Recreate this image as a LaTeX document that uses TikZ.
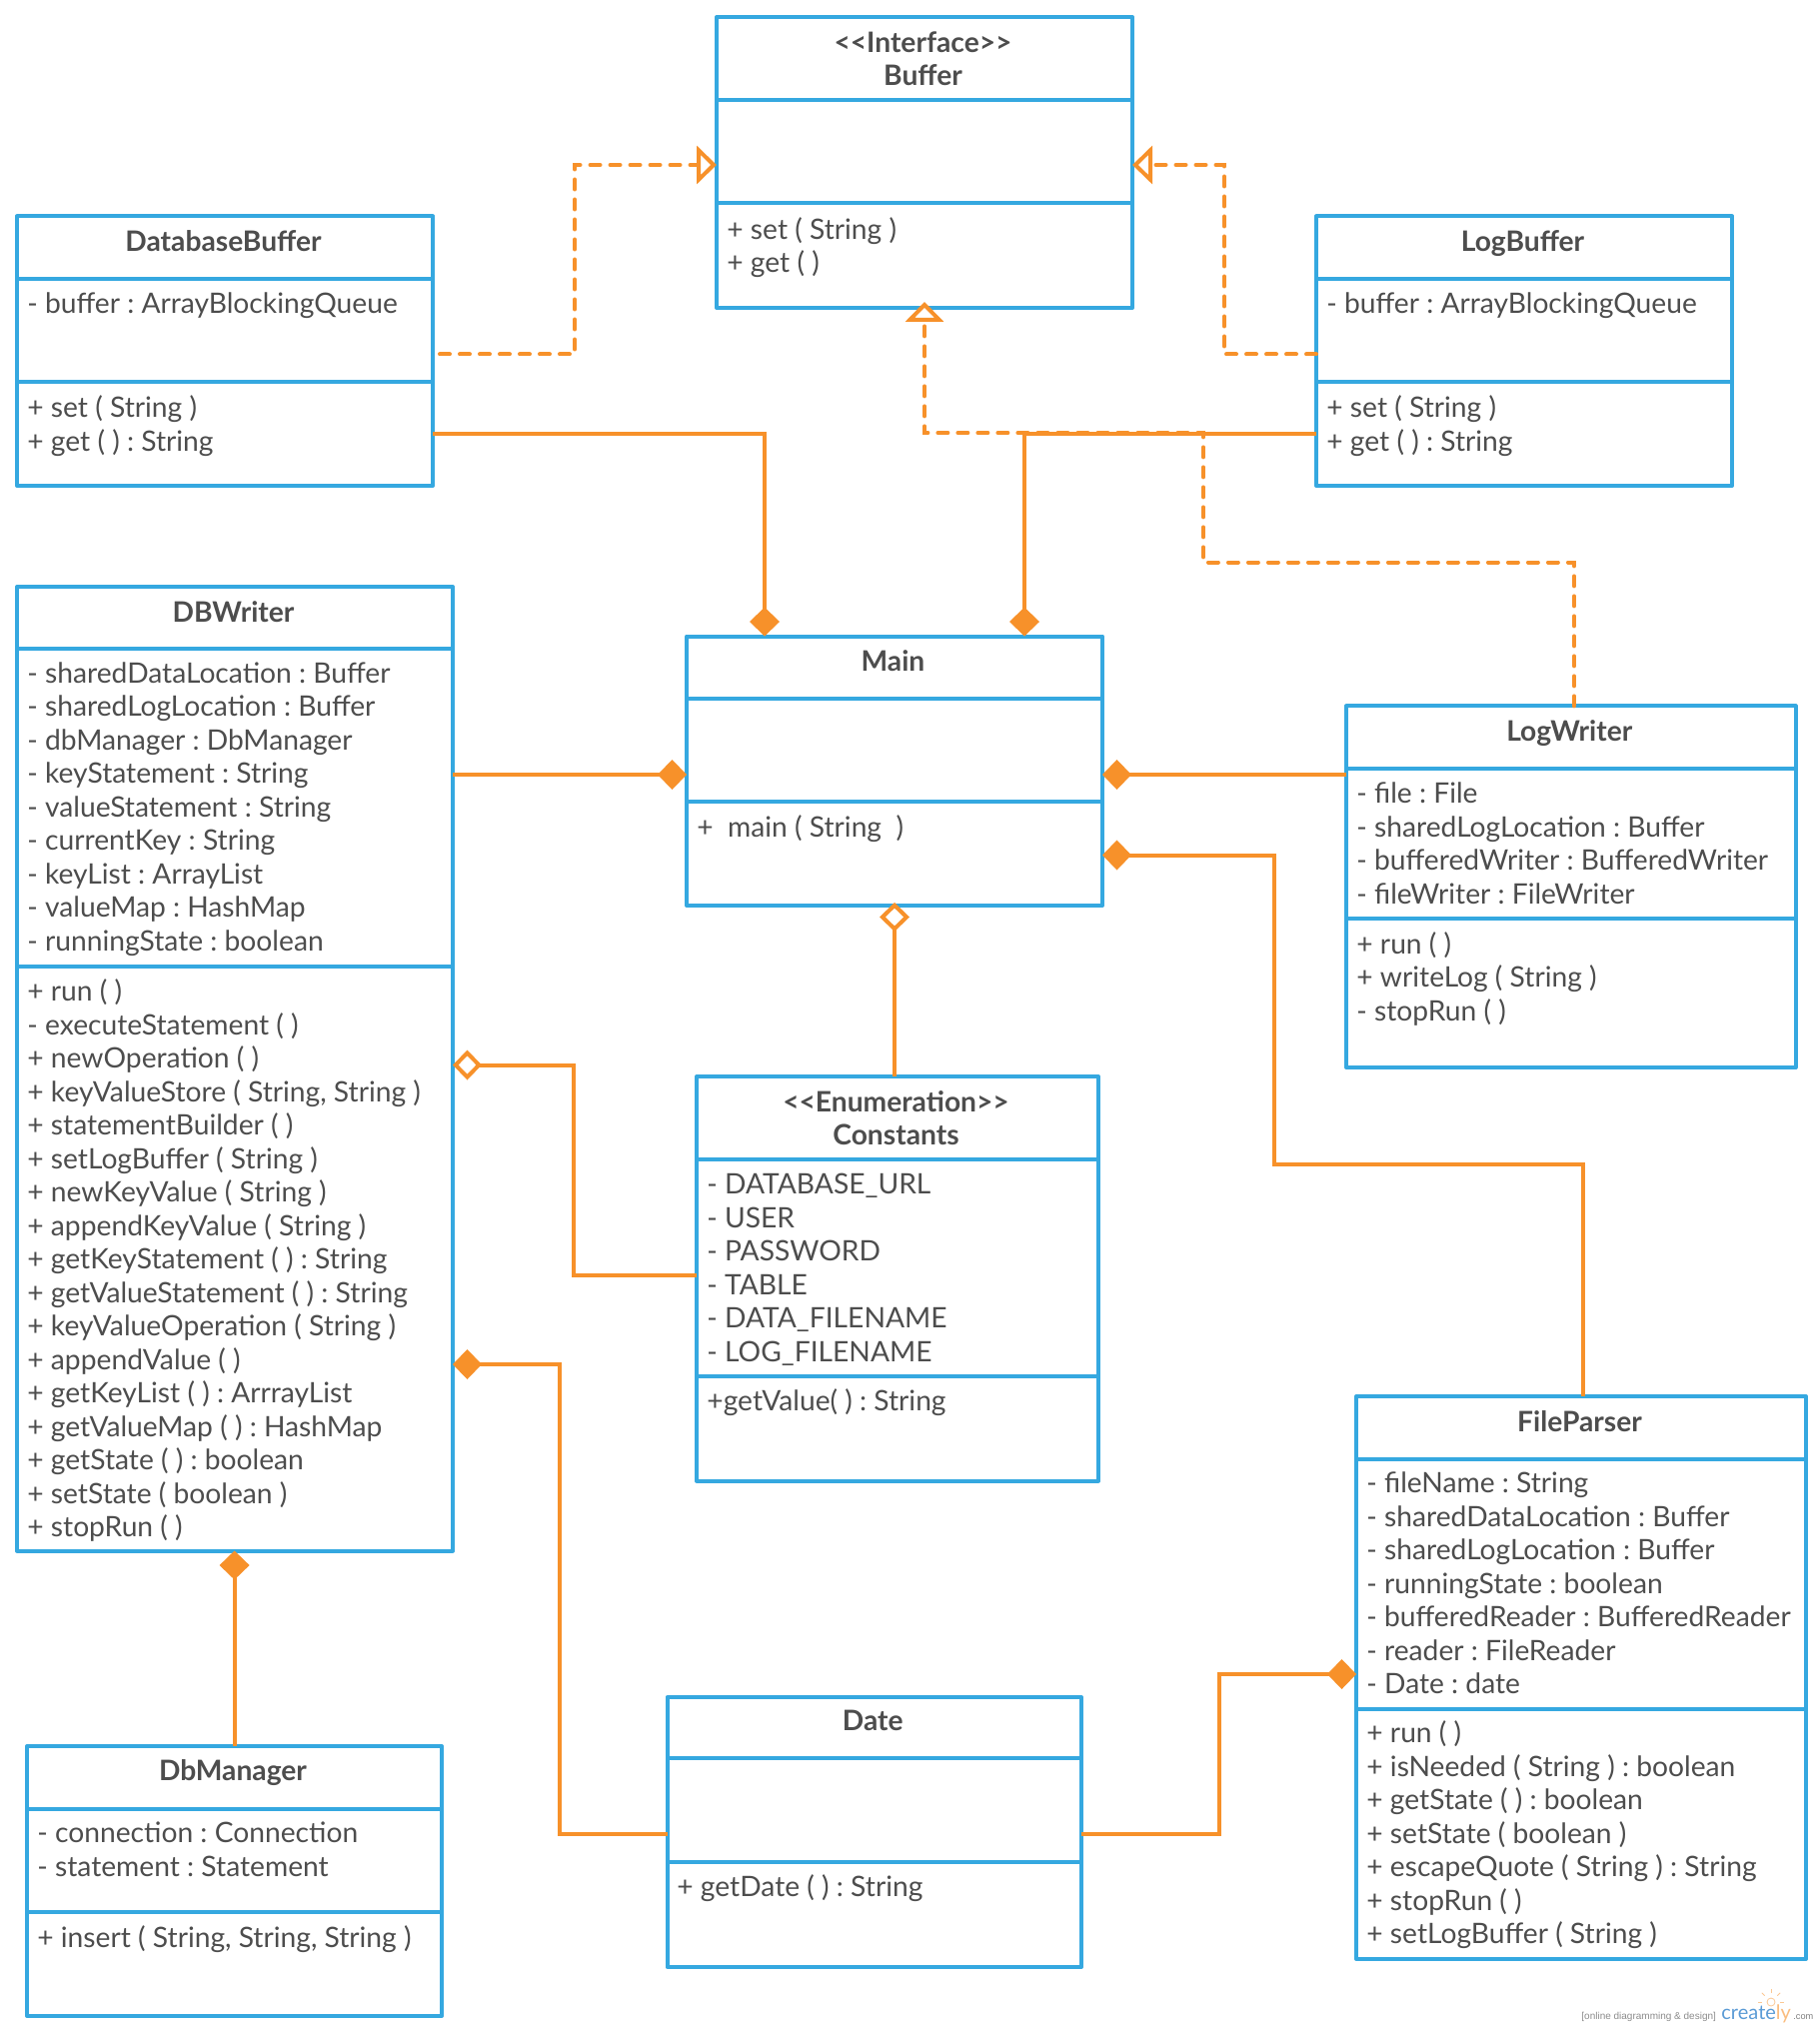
\documentclass[tikz,border=0pt]{standalone}
\usepackage{fontspec}
\setmainfont{Lato}
\newfontfamily\logofont{Liberation Sans}
\usetikzlibrary{arrows.meta,fit}
\definecolor{umlblue}{HTML}{35A8E0}
\definecolor{umlorange}{HTML}{F7912A}
\definecolor{umltext}{HTML}{4D4D4D}
\tikzset{x=0.5pt, y=-0.5pt,
  classbox/.style={draw=umlblue, line width=2pt, line join=round, inner sep=0pt, outer sep=0pt},
  classline/.style={draw=umlblue, line width=2pt},
  classtitle/.style={anchor=north, align=center, inner sep=0pt, text=umltext, xshift=-0.75pt, yshift=-0.75pt,
    font=\fontsize{14.1}{16.75}\selectfont\bfseries, execute at begin node=\strut},
  classtext/.style={anchor=north west, align=left, inner sep=0pt, text=umltext, xshift=-0.5pt, yshift=-1.5pt,
    font=\fontsize{14.1}{16.75}\selectfont, execute at begin node=\strut},
  composition/.style={draw=umlorange, line width=2pt, -{Diamond[length=14.5pt,width=15pt,line width=0pt]}},
  aggregation/.style={draw=umlorange, line width=2pt, -{Diamond[open,fill=white,length=14.5pt,width=15pt]}},
  realization/.style={draw=umlorange, line width=2pt, line cap=round, dash pattern=on 5pt off 5pt,
    -{Triangle[open,fill=white,length=10pt,width=19pt]}}
}

\begin{document}
\frenchspacing
\begin{tikzpicture}
  \useasboundingbox (0,0) rectangle (1820,2032);

  % Buffer
  \node[classbox, fit={(717,17) (1133,308)}] (buffer) {};
  \draw[classline] (buffer.west |- 0,100) -- (buffer.east |- 0,100);
  \draw[classline] (buffer.west |- 0,203.5) -- (buffer.east |- 0,203.5);
  \node[classtitle, yshift=-1.25pt] (buffertitle) at (buffer.north |- 0,27) {{<}{<}Interface{>}{>}\\Buffer};
  \node[classtext] (bufferops) at (728,214) {+ set ( String )\\+ get ( )};

  % DatabaseBuffer
  \node[classbox, fit={(17,216.5) (433,486)}] (dbbuffer) {};
  \draw[classline] (dbbuffer.west |- 0,279) -- (dbbuffer.east |- 0,279);
  \draw[classline] (dbbuffer.west |- 0,382.4) -- (dbbuffer.east |- 0,382.4);
  \node[classtitle] (dbbuffertitle) at (dbbuffer.north |- 0,226.5) {DatabaseBuffer};
  \node[classtext] (dbbufferattrs) at (28,287) {- buffer : ArrayBlockingQueue};
  \node[classtext] (dbbufferops) at (28,392.4) {+ set ( String )\\+ get ( ) : String};

  % LogBuffer
  \node[classbox, fit={(1317,216.5) (1733,486)}] (logbuffer) {};
  \draw[classline] (logbuffer.west |- 0,279) -- (logbuffer.east |- 0,279);
  \draw[classline] (logbuffer.west |- 0,382.4) -- (logbuffer.east |- 0,382.4);
  \node[classtitle] (logbuffertitle) at (logbuffer.north |- 0,226.5) {LogBuffer};
  \node[classtext] (logbufferattrs) at (1328,287) {- buffer : ArrayBlockingQueue};
  \node[classtext] (logbufferops) at (1328,392.4) {+ set ( String )\\+ get ( ) : String};

  % DBWriter
  \node[classbox, fit={(17,587) (453,1551.5)}] (dbwriter) {};
  \draw[classline] (dbwriter.west |- 0,649) -- (dbwriter.east |- 0,649);
  \draw[classline] (dbwriter.west |- 0,966.5) -- (dbwriter.east |- 0,966.5);
  \node[classtitle] (dbwritertitle) at (dbwriter.north |- 0,597) {DBWriter};
  \node[classtext] (dbwriterattrs) at (28,659) {- sharedDataLocation : Buffer\\- sharedLogLocation : Buffer\\
    - dbManager : DbManager\\- keyStatement : String\\- valueStatement : String\\- currentKey : String\\
    - keyList : ArrayList\\- valueMap : HashMap\\- runningState : boolean};
  \node[classtext] (dbwriterops) at (28,976.5) {+ run ( )\\- executeStatement ( )\\+ newOperation ( )\\
    + keyValueStore ( String, String )\\+ statementBuilder ( )\\+ setLogBuffer ( String )\\
    + newKeyValue ( String )\\+ appendKeyValue ( String )\\+ getKeyStatement ( ) : String\\
    + getValueStatement ( ) : String\\+ keyValueOperation ( String )\\+ appendValue ( )\\
    + getKeyList ( ) : ArrrayList\\+ getValueMap ( ) : HashMap\\+ getState ( ) : boolean\\
    + setState ( boolean )\\+ stopRun ( )};

  % Main
  \node[classbox, fit={(687,636.5) (1103,906)}] (main) {};
  \draw[classline] (main.west |- 0,698.7) -- (main.east |- 0,698.7);
  \draw[classline] (main.west |- 0,802) -- (main.east |- 0,802);
  \node[classtitle] (maintitle) at (main.north |- 0,646.5) {Main};
  \node[classtext] (mainops) at (698,810.5) {+\ \ main ( String\ \ )};

  % LogWriter
  \node[classbox, fit={(1347,706.4) (1796.5,1068)}] (logwriter) {};
  \draw[classline] (logwriter.west |- 0,768.6) -- (logwriter.east |- 0,768.6);
  \draw[classline] (logwriter.west |- 0,919) -- (logwriter.east |- 0,919);
  \node[classtitle] (logwritertitle) at (logwriter.north |- 0,716.4) {LogWriter};
  \node[classtext] (logwriterattrs) at (1358,779.6) {- file : File\\- sharedLogLocation : Buffer\\
    - bufferedWriter : BufferedWriter\\- fileWriter : FileWriter};
  \node[classtext] (logwriterops) at (1358,929) {+ run ( )\\+ writeLog ( String )\\- stopRun ( )};

  % Constants
  \node[classbox, fit={(697,1077) (1099,1481.6)}] (constants) {};
  \draw[classline] (constants.west |- 0,1160) -- (constants.east |- 0,1160);
  \draw[classline] (constants.west |- 0,1376.6) -- (constants.east |- 0,1376.6);
  \node[classtitle, yshift=-1.25pt] (constantstitle) at (constants.north |- 0,1087) {{<}{<}Enumeration{>}{>}\\Constants};
  \node[classtext] (constantsattrs) at (708,1171) {- DATABASE\_URL\\- USER\\- PASSWORD\\- TABLE\\
    - DATA\_FILENAME\\- LOG\_FILENAME};
  \node[classtext] (constantsops) at (708,1385) {+getValue( ) : String};

  % FileParser
  \node[classbox, fit={(1357,1397) (1807,1960)}] (fileparser) {};
  \draw[classline] (fileparser.west |- 0,1459.5) -- (fileparser.east |- 0,1459.5);
  \draw[classline] (fileparser.west |- 0,1709.7) -- (fileparser.east |- 0,1709.7);
  \node[classtitle] (fileparsertitle) at (fileparser.north |- 0,1407) {FileParser};
  \node[classtext] (fileparserattrs) at (1368,1469.5) {- fileName : String\\- sharedDataLocation : Buffer\\
    - sharedLogLocation : Buffer\\- runningState : boolean\\- bufferedReader : BufferedReader\\
    - reader : FileReader\\- Date : date};
  \node[classtext] (fileparserops) at (1368,1718.7) {+ run ( )\\+ isNeeded ( String ) : boolean\\
    + getState ( ) : boolean\\+ setState ( boolean )\\+ escapeQuote ( String ) : String\\
    + stopRun ( )\\+ setLogBuffer ( String )};

  % Date
  \node[classbox, fit={(667.5,1698) (1082,1968)}] (date) {};
  \draw[classline] (date.west |- 0,1759) -- (date.east |- 0,1759);
  \draw[classline] (date.west |- 0,1863) -- (date.east |- 0,1863);
  \node[classtitle] (datetitle) at (date.north |- 0,1706.5) {Date};
  \node[classtext] (dateops) at (678,1871) {+ getDate ( ) : String};

  % DbManager
  \node[classbox, fit={(27,1747) (442,2017)}] (dbmanager) {};
  \draw[classline] (dbmanager.west |- 0,1809.5) -- (dbmanager.east |- 0,1809.5);
  \draw[classline] (dbmanager.west |- 0,1913) -- (dbmanager.east |- 0,1913);
  \node[classtitle] (dbmanagertitle) at (dbmanager.north |- 0,1756) {DbManager};
  \node[classtext] (dbmanagerattrs) at (38,1819.5) {- connection : Connection\\- statement : Statement};
  \node[classtext] (dbmanagerops) at (38,1921.5) {+ insert ( String, String, String )};

  % realizations
  \draw[realization, shorten <=3.5pt] (dbbuffer.east |- 0,354.5) -- (575,354.5) |- (buffer.west |- 0,165);
  \draw[realization] (logbuffer.west |- 0,354.5) -- (1225,354.5) |- (buffer.east |- 0,165);
  \draw[realization, shorten >=-3pt] (logwriter.north -| 1575,0) |- (1204,562.5) |- (925,433) -- (buffer.south -| 925,0);

  % compositions and aggregations
  \draw[composition] (dbbuffer.east |- 0,434) -| (main.north -| 765,0);
  \draw[composition] (logbuffer.west |- 0,434) -| (main.north -| 1025,0);
  \draw[composition] (dbwriter.east |- 0,775) -- (main.west |- 0,775);
  \draw[composition] (logwriter.west |- 0,775) -- (main.east |- 0,775);
  \draw[composition] (fileparser.north -| 1584,0) |- (1275,1165) |- (main.east |- 0,855.5);
  \draw[aggregation, shorten >=-1.5pt] (constants.north -| 895,0) -- (main.south -| 895,0);
  \draw[aggregation] (constants.west |- 0,1275.5) -| (574,1065.5) -- (dbwriter.east |- 0,1065.5);
  \draw[composition] (date.west |- 0,1835) -| (560,1365) -- (dbwriter.east |- 0,1365);
  \draw[composition] (dbmanager.north -| 234.6,0) -- (dbwriter.south -| 234.6,0);
  \draw[composition] (date.east |- 0,1835) -| (1220,1675) -- (fileparser.west |- 0,1675);

  % logo
  \node[anchor=base west, inner sep=0pt, text=black!45, font=\logofont\fontsize{5}{6}\selectfont] (logotag) at (1582,2020) {[online diagramming \& design]};
  \node[anchor=base west, inner sep=0pt, font=\fontsize{10}{12}\selectfont] (logoname) at (1722,2020) {\textcolor[HTML]{5B9BD5}{create}\textcolor{umlorange!60}{ly}};
  \node[anchor=base west, inner sep=0pt, text=black!50, font=\logofont\fontsize{4.6}{6}\selectfont] (logocom) at (1794,2020) {.com};
  \node[circle, draw=umlorange!50, line width=0.4pt, minimum size=4pt, inner sep=0pt] (logobulb) at (1772,2003) {};
  \foreach \a in {0,-45,-90,-135,-180}
    \draw[umlorange!50, line width=0.4pt] (logobulb) ++(\a:9) -- ++(\a:4);
\end{tikzpicture}
\end{document}
